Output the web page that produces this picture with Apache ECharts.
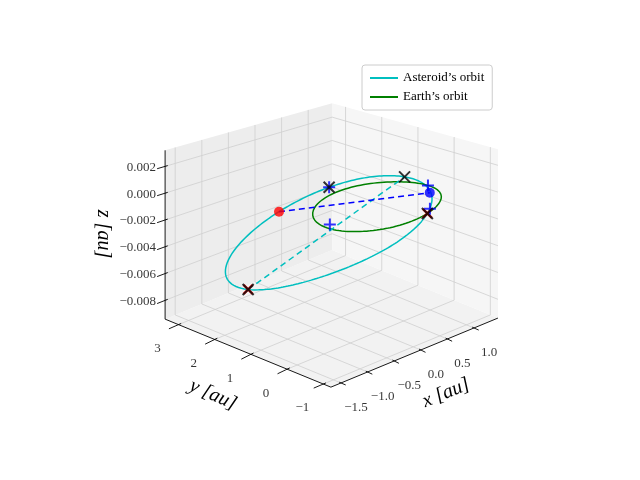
<!DOCTYPE html>
<html><head><meta charset="utf-8">
<script src="https://cdn.jsdelivr.net/npm/echarts@6/dist/echarts.min.js"></script>
<style>html,body{margin:0;padding:0;background:#fff}#c{width:640px;height:480px}</style>
</head><body><div id="c"></div>
<script>
// ---- data ----
const X_TICKS = [-1.5, -1.0, -0.5, 0.0, 0.5, 1.0];
const Y_TICKS = [-1, 0, 1, 2, 3];
const Z_TICKS = [-0.008, -0.006, -0.004, -0.002, 0.000, 0.002];
const XLIM = [-1.69, 1.45];
const YLIM = [-1.21, 3.37];
const ZLIM = [-0.0094, 0.0032];
// asteroid orbit ellipse: centre, semi-axis vectors (au)
const AST_CENTER = [-0.03, 1.29, -0.0034];
const AST_U = [1.39, -0.77, 0.002];
const AST_V = [0.54, 0.31, -0.004];
const EARTH_RADIUS = 1.0;
// marker positions on the asteroid orbit (orbit angle, deg)
const AST_BLACK_X_DEG = [151, 280, 327, 27];
const AST_RED_X_DEG = [151, 27];
const AST_RED_DOT_DEG = 251;
const AST_DASH_DEG = [151, 327];
// earth related points (au)
const EARTH_DOT = [0.72, -0.40, 0.0003];
const BLUE_PLUS = [[0.89, -0.10, 0.0003], [0.43, -0.83, 0.0], [-0.90, -0.02, 0.0]];

// ---- projection (view of the 3D box) ----
const [x0, x1] = XLIM, [y0, y1] = YLIM, [z0, z1] = ZLIM;
const BX = 377, BY = 332;
function P(x, y, z) {
  const u = (x - x0) / (x1 - x0), v = (y - y0) / (y1 - y0);
  const s = 13400 * (1 - 0.13 * u * v);
  const lift = 5 * Math.sin(Math.PI * u) * Math.sin(Math.PI * v); // perspective bulge
  return [BX + 53.2 * x - 36.2 * y, BY - 22 * x - 14.85 * y - s * (z - z0) - lift];
}
function ast(deg) {
  const t = deg * Math.PI / 180, c = Math.cos(t), s = Math.sin(t);
  return [0, 1, 2].map(i => AST_CENTER[i] + AST_U[i] * c + AST_V[i] * s);
}
function circ(n, f) { const a = []; for (let i = 0; i <= n; i++) a.push(f(360 * i / n)); return a; }

const panes = [
  { c: '#f2f2f2', pts: [[x0,y0,z0],[x1,y0,z0],[x1,y1,z0],[x0,y1,z0]] },
  { c: '#ededed', pts: [[x0,y1,z0],[x1,y1,z0],[x1,y1,z1],[x0,y1,z1]] },
  { c: '#f6f6f6', pts: [[x1,y0,z0],[x1,y1,z0],[x1,y1,z1],[x1,y0,z1]] }
];
const grid = [];
X_TICKS.forEach(x => { grid.push(P(x,y0,z0), P(x,y1,z0), P(x,y1,z1), '-'); });
Y_TICKS.forEach(y => { grid.push(P(x0,y,z0), P(x1,y,z0), P(x1,y,z1), '-'); });
Z_TICKS.forEach(z => { grid.push(P(x0,y1,z), P(x1,y1,z), P(x1,y0,z), '-'); });
const axes = [P(x0,y0,z0), P(x1,y0,z0), '-', P(x0,y0,z0), P(x0,y1,z0), '-', P(x0,y1,z0), P(x0,y1,z1)];
const ticks = [];
X_TICKS.forEach(x => { ticks.push(P(x,y0+0.05,z0), P(x,y0-0.13,z0), '-'); });
Y_TICKS.forEach(y => { ticks.push(P(x0+0.05,y,z0), P(x0-0.18,y,z0), '-'); });
Z_TICKS.forEach(z => { ticks.push(P(x0+0.05,y1,z), P(x0-0.15,y1,z), '-'); });

const fmtX = v => (v < 0 ? '\u2212' : '') + Math.abs(v).toFixed(1);
const fmtY = v => (v < 0 ? '\u2212' : '') + Math.abs(v).toFixed(0);
const fmtZ = v => (v < -1e-9 ? '\u2212' : '') + Math.abs(v).toFixed(3);
const labX = X_TICKS.map(v => { const p = P(v,y0,z0); return { value: [p[0]+15, p[1]+25], t: fmtX(v) }; });
const labY = Y_TICKS.map(v => { const p = P(x0,v,z0); return { value: [p[0]-21, p[1]+24], t: fmtY(v) }; });
const labZ = Z_TICKS.map(v => { const p = P(x0,y1,v); return { value: [p[0]-9, p[1]+1], t: fmtZ(v) }; });

const astOrbit = circ(240, d => P(...ast(d)));
const earthOrbit = circ(240, d => { const t = d*Math.PI/180; return P(EARTH_RADIUS*Math.cos(t), EARTH_RADIUS*Math.sin(t), 0); });
const FONT = 'Liberation Serif';
const xPath = 'path://M0,0L10,10M10,0L0,10';
const plusPath = 'path://M5,0L5,10M0,5L10,5';

function lineS(name, data, color, width, type, z) {
  return { type: 'line', name, data, showSymbol: false, symbol: 'none', silent: true, z: z || 2,
    lineStyle: { color, width, type: type || 'solid' }, itemStyle: { color }, animation: false };
}
function markS(data, path, color, size, z, w) {
  return { type: 'scatter', data, symbol: path, symbolSize: size, silent: true, z, animation: false,
    itemStyle: { color: 'none', borderColor: color, borderWidth: w || 2 } };
}
function labS(data, align) {
  return { type: 'scatter', data, symbolSize: 0, silent: true, animation: false,
    label: { show: true, position: 'inside', align, verticalAlign: 'middle', formatter: p => p.data.t,
      fontFamily: FONT, fontSize: 13, color: '#000' } };
}

const chart = echarts.init(document.getElementById('c'));
chart.setOption({
  animation: false,
  grid: { left: 0, right: 0, top: 0, bottom: 0 },
  xAxis: { type: 'value', min: 0, max: 640, show: false },
  yAxis: { type: 'value', min: 0, max: 480, inverse: true, show: false },
  legend: { left: 362, top: 65, orient: 'vertical', itemWidth: 28, itemHeight: 2, itemGap: 5,
    padding: [6, 8], borderColor: '#cccccc', borderWidth: 1, borderRadius: 3, backgroundColor: '#fff',
    icon: 'rect', textStyle: { fontFamily: FONT, fontSize: 13, color: '#000', lineHeight: 14 },
    data: ["Asteroid\u2019s orbit", "Earth\u2019s orbit"] },
  series: [
    { type: 'custom', silent: true, z: 0, data: panes.map((p, i) => i),
      renderItem: (params, api) => {
        const pn = panes[api.value(0)];
        return { type: 'polygon', shape: { points: pn.pts.map(q => api.coord(P(...q))) },
          style: { fill: pn.c, stroke: null } };
      } },
    lineS('grid', grid, '#cfcfcf', 0.8, 'solid', 1),
    lineS('axes', axes, '#000', 0.9, 'solid', 1),
    lineS('ticks', ticks, '#000', 0.9, 'solid', 1),
    labS(labX, 'center'), labS(labY, 'center'), labS(labZ, 'right'),
    lineS("Asteroid\u2019s orbit", astOrbit, '#00bfbf', 1.5, 'solid', 3),
    lineS("Earth\u2019s orbit", earthOrbit, '#008000', 1.5, 'solid', 3),
    lineS('adash', AST_DASH_DEG.map(d => P(...ast(d))), '#00bfbf', 1.5, [6, 4], 3),
    lineS('bdash', [P(...ast(AST_RED_DOT_DEG)), P(...EARTH_DOT)], '#0000ff', 1.5, [6, 4], 3),
    markS(AST_RED_X_DEG.map(d => P(...ast(d))), xPath, '#ff0000', 9, 4, 2.5),
    markS(AST_BLACK_X_DEG.map(d => P(...ast(d))), xPath, '#000000', 11, 5, 2),
    markS(BLUE_PLUS.concat([ast(280)]).map(p => P(...p)), plusPath, '#0000ff', 12, 4, 2),
    { type: 'scatter', silent: true, z: 6, animation: false, symbolSize: 10,
      data: [P(...ast(AST_RED_DOT_DEG))], itemStyle: { color: '#ff0000' } },
    { type: 'scatter', silent: true, z: 6, animation: false, symbolSize: 10,
      data: [P(...EARTH_DOT)], itemStyle: { color: '#0000ff' } }
  ],
  graphic: [
    { type: 'text', x: 446, y: 393, rotation: 0.39, style: { text: 'x [au]', font: 'italic 20px ' + FONT, fill: '#000', align: 'center', verticalAlign: 'middle' } },
    { type: 'text', x: 213, y: 395, rotation: -0.42, style: { text: 'y [au]', font: 'italic 20px ' + FONT, fill: '#000', align: 'center', verticalAlign: 'middle' } },
    { type: 'text', x: 103, y: 234, rotation: -Math.PI / 2, style: { text: 'z [au]', font: 'italic 20px ' + FONT, fill: '#000', align: 'center', verticalAlign: 'middle' } }
  ]
});
</script></body></html>
